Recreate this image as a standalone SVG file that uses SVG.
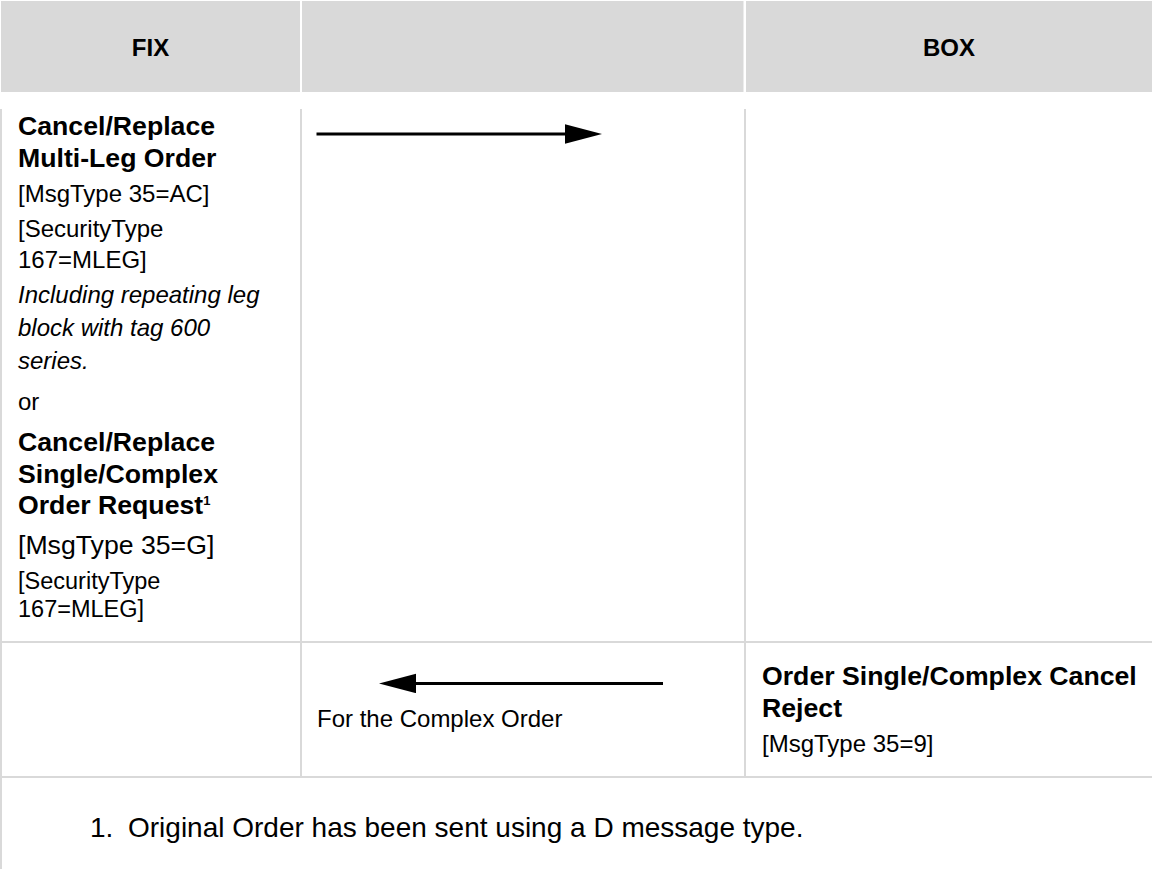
<svg xmlns="http://www.w3.org/2000/svg" width="1152" height="869" viewBox="0 0 1152 869">
  <style>
    text { font-family: "Liberation Sans", Arial, sans-serif; fill: #000; }
    .hdr { fill: #d9d9d9; }
    .hdr-t { font-size: 24px; font-weight: bold; text-anchor: middle; }
    .b { font-size: 26.67px; font-weight: bold; }
    .r { font-size: 24px; }
    .rl { font-size: 26.67px; }
    .rs { font-size: 23.5px; }
    .i { font-size: 24px; font-style: italic; }
    .sup { font-size: 13px; font-weight: bold; }
    .foot { font-size: 28px; }
    .grid { stroke: #d9d9d9; stroke-width: 2; fill: none; }
    .msg { stroke: #000; stroke-width: 3; fill: none; marker-end: url(#head); }
  </style>
  <defs>
    <marker id="head" markerUnits="userSpaceOnUse" markerWidth="38" markerHeight="20" refX="0" refY="9.7" orient="auto">
      <path d="M0,0 L37,9.7 L0,19.4 Z" fill="#000"/>
    </marker>
  </defs>
  <rect width="1152" height="869" fill="#fff"/>

  <g id="header">
    <g id="header-fix">
      <rect class="hdr" x="1" y="1" width="299" height="91"/>
      <text class="hdr-t" x="150.5" y="56">FIX</text>
    </g>
    <g id="header-mid">
      <rect class="hdr" x="302" y="1" width="441.5" height="91"/>
    </g>
    <g id="header-box">
      <rect class="hdr" x="746" y="1" width="406" height="91"/>
      <text class="hdr-t" x="949" y="56">BOX</text>
    </g>
  </g>

  <g id="grid">
    <line class="grid" x1="1" y1="109" x2="1" y2="869"/>
    <line class="grid" x1="301" y1="109" x2="301" y2="777"/>
    <line class="grid" x1="745" y1="109" x2="745" y2="777"/>
    <line class="grid" x1="0" y1="642" x2="1152" y2="642"/>
    <line class="grid" x1="0" y1="777" x2="1152" y2="777"/>
  </g>

  <g id="fix-request">
    <text class="b" x="18" y="135">Cancel/Replace</text>
    <text class="b" x="18" y="167">Multi-Leg Order</text>
    <text class="r" x="18" y="202">[MsgType 35=AC]</text>
    <text class="r" x="18" y="237">[SecurityType</text>
    <text class="r" x="18" y="268">167=MLEG]</text>
    <text class="i" x="18" y="303">Including repeating leg</text>
    <text class="i" x="18" y="336">block with tag 600</text>
    <text class="i" x="18" y="369">series.</text>
    <text class="r" x="18" y="410">or</text>
    <text class="b" x="18" y="451">Cancel/Replace</text>
    <text class="b" x="18" y="483">Single/Complex</text>
    <text class="b" x="18" y="514">Order Request<tspan class="sup" dy="-9">1</tspan></text>
    <text class="rl" x="18" y="554">[MsgType 35=G]</text>
    <text class="rs" x="18" y="589">[SecurityType</text>
    <text class="rs" x="18" y="617">167=MLEG]</text>
  </g>

  <g id="box-reject">
    <text class="b" x="762" y="685">Order Single/Complex Cancel</text>
    <text class="b" x="762" y="716.5">Reject</text>
    <text class="r" x="762" y="752">[MsgType 35=9]</text>
  </g>

  <g id="reject-label">
    <text class="r" x="317" y="727">For the Complex Order</text>
  </g>

  <g id="connectors">
    <line id="msg-request" class="msg" x1="316.5" y1="134" x2="565" y2="134"/>
    <line id="msg-reject" class="msg" x1="663" y1="683.5" x2="416" y2="683.5"/>
  </g>

  <g id="footnote">
    <text class="foot" x="90" y="837">1.</text>
    <text class="foot" x="128" y="837">Original Order has been sent using a D message type.</text>
  </g>
</svg>
